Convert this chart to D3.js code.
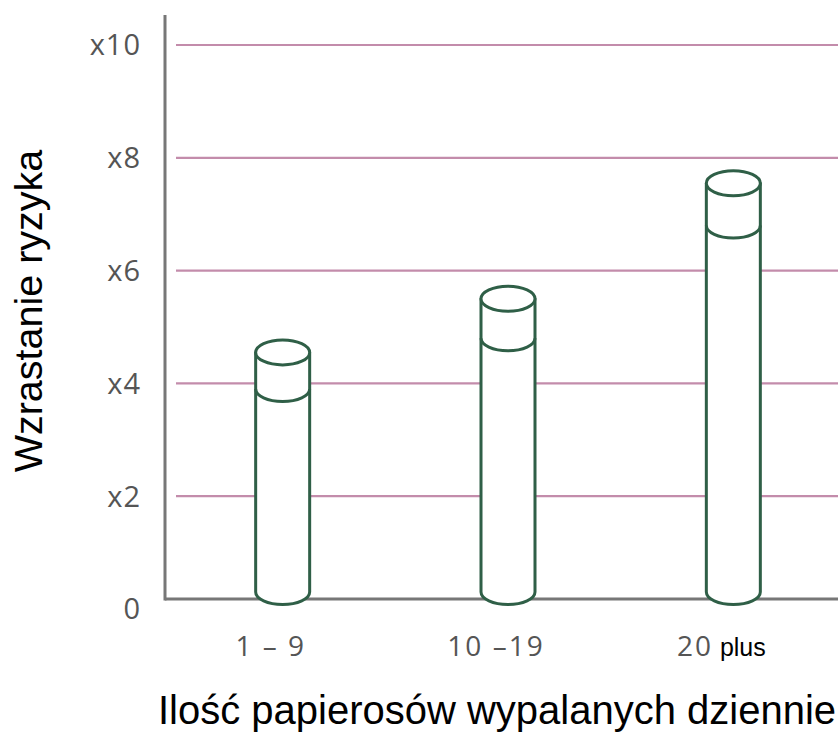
<!DOCTYPE html>
<html>
<head>
<meta charset="utf-8">
<script src="https://cdn.jsdelivr.net/npm/d3@7"></script>
<style>
  html, body { margin: 0; padding: 0; background: #fff; }
  svg { display: block; }
</style>
</head>
<body>
<svg id="chart" width="838" height="753"></svg>
<script>
// ---- data ----
const categories = ["1 – 9", "10 –19", "20"];
const categorySuffix = ["", "", " plus"];
const upperValues = [4.55, 5.5, 7.55];   // top of cylinder
const lowerValues = [3.9, 4.8, 6.8];     // inner ring
const yTicks = [0, 2, 4, 6, 8, 10];
const yTickLabels = ["0", "x2", "x4", "x6", "x8", "x10"];
const yTitle = "Wzrastanie ryzyka";
const xTitle = "Ilość papierosów wypalanych dziennie";

// ---- layout ----
const W = 838, H = 753;
const axisX = 165;
const svg = d3.select("#chart");

const y = d3.scaleLinear().domain([0, 10]).range([609, 45]);
const x = d3.scaleBand().domain(categories).range([170, 846]).paddingInner(0.76).paddingOuter(0.38);
const baselineY = y(0) - 10;
const green = "#2f5f47";

// gridlines
svg.append("g").selectAll("line")
  .data(yTicks.filter(d => d > 0))
  .join("line")
  .attr("x1", 176).attr("x2", W)
  .attr("y1", d => y(d)).attr("y2", d => y(d))
  .attr("stroke", "#c38cab").attr("stroke-width", 2.2);

// y tick labels
svg.append("g").selectAll("text")
  .data(yTicks)
  .join("text")
  .attr("x", 141)
  .attr("y", d => y(d))
  .attr("dy", "0.36em")
  .attr("text-anchor", "end")
  .attr("font-family", "'Open Sans', sans-serif")
  .attr("font-size", 29)
  .attr("letter-spacing", 1)
  .attr("fill", "#555")
  .text((d, i) => yTickLabels[i]);

// axes lines
svg.append("line").attr("x1", axisX).attr("x2", axisX).attr("y1", 15).attr("y2", baselineY + 1.5)
  .attr("stroke", "#777").attr("stroke-width", 3);
svg.append("line").attr("x1", axisX).attr("x2", W).attr("y1", baselineY).attr("y2", baselineY)
  .attr("stroke", "#777").attr("stroke-width", 3);

// cylinders
const rx = 27, ry = 12.5;
const bars = svg.append("g").selectAll("g")
  .data(categories.map((c, i) => ({ c, hi: upperValues[i], lo: lowerValues[i] })))
  .join("g");

bars.each(function(d) {
  const g = d3.select(this);
  const cx = x(d.c) + x.bandwidth() / 2;
  const top = y(d.hi), low = y(d.lo), bot = baselineY - 7;
  g.append("path")
    .attr("d", `M${cx - rx},${top} L${cx - rx},${bot} A${rx},${ry} 0 0 0 ${cx + rx},${bot} L${cx + rx},${top} Z`)
    .attr("fill", "#fff").attr("stroke", green).attr("stroke-width", 3).attr("stroke-linejoin", "round");
  g.append("path")
    .attr("d", `M${cx - rx},${low} A${rx},${ry} 0 0 0 ${cx + rx},${low}`)
    .attr("fill", "none").attr("stroke", green).attr("stroke-width", 3);
  g.append("ellipse")
    .attr("cx", cx).attr("cy", top).attr("rx", rx).attr("ry", ry)
    .attr("fill", "#fff").attr("stroke", green).attr("stroke-width", 3);
});

// x labels
const xl = svg.append("g").selectAll("text")
  .data(categories)
  .join("text")
  .attr("x", d => x(d) + x.bandwidth() / 2 - 12)
  .attr("y", 656)
  .attr("text-anchor", "middle")
  .attr("font-family", "'Open Sans', sans-serif")
  .attr("font-size", 28)
  .attr("letter-spacing", 2)
  .attr("fill", "#555");
xl.append("tspan").text(d => d);
xl.append("tspan")
  .attr("font-family", "'Liberation Sans', Arial, sans-serif")
  .attr("font-size", 25)
  .attr("letter-spacing", 0)
  .attr("fill", "#000")
  .text((d, i) => categorySuffix[i]);

// axis titles
svg.append("text")
  .attr("transform", "translate(42,311) rotate(-90)")
  .attr("text-anchor", "middle")
  .attr("font-family", "'Liberation Sans', Arial, sans-serif")
  .attr("font-size", 39.5)
  .attr("fill", "#000")
  .text(yTitle);

svg.append("text")
  .attr("x", 497).attr("y", 724)
  .attr("text-anchor", "middle")
  .attr("font-family", "'Liberation Sans', Arial, sans-serif")
  .attr("font-size", 40)
  .attr("fill", "#000")
  .text(xTitle);
</script>
</body>
</html>
